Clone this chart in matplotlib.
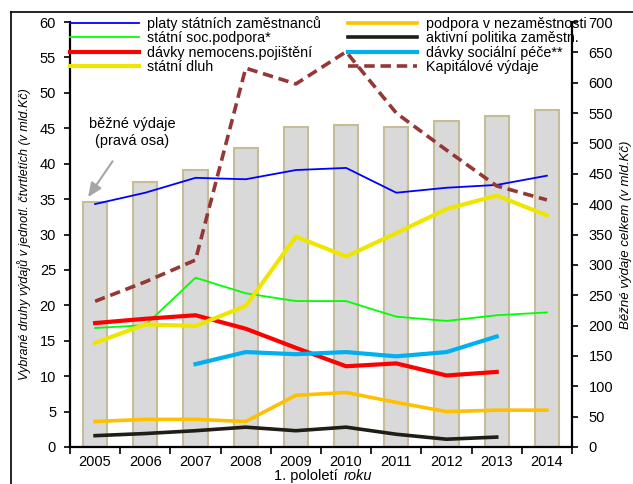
import matplotlib
matplotlib.use('Agg')
import matplotlib.pyplot as plt
import numpy as np

plt.rcParams['font.family'] = ['Liberation Sans', 'DejaVu Sans']

years = ['2005', '2006', '2007', '2008', '2009', '2010', '2011', '2012', '2013', '2014']
bezne_vydaje = [403, 437, 456, 492, 527, 530, 527, 537, 545, 555]
platy = [34.3, 35.9, 38.0, 37.8, 39.1, 39.4, 35.9, 36.6, 37.0, 38.3]
soc_podpora = [16.8, 17.2, 23.9, 21.7, 20.6, 20.6, 18.4, 17.8, 18.6, 19.0]
nemocenske = [17.5, 18.1, 18.6, 16.7, 14.0, 11.4, 11.8, 10.1, 10.6, None]
dluh = [14.7, 17.3, 17.1, 19.9, 29.7, 26.9, 30.2, 33.6, 35.5, 32.7]
podpora_nezam = [3.6, 3.9, 3.9, 3.6, 7.3, 7.7, 6.3, 5.0, 5.2, 5.2]
aktivni = [1.6, 1.9, 2.3, 2.8, 2.3, 2.8, 1.8, 1.1, 1.4, None]
soc_pece = [None, None, 11.7, 13.4, 13.1, 13.4, 12.8, 13.4, 15.6, None]
kapitalove = [240, 272, 308, 624, 598, 651, 550, 489, 430, 407]

x = np.arange(len(years))
f = lambda v: np.array(v, dtype=float)

fig = plt.figure(figsize=(6.33, 4.84), dpi=100)
axb = fig.add_axes([70/633, 37/484, 502/633, 425/484])
axl = axb.twinx()
axk = axb.twinx()

# bars (right axis)
axb.bar(x, bezne_vydaje, width=0.48, color='#d9d9d9', edgecolor='#c4bd97', linewidth=1.5, zorder=2)
axb.set_ylim(0, 700)
axb.set_yticks(np.arange(0, 701, 50))
axb.yaxis.tick_right()
axb.yaxis.set_label_position('right')
axb.set_ylabel('Běžné výdaje celkem (v mld.Kč)', fontstyle='italic', fontsize=9.5, labelpad=5)
axb.set_xlim(-0.5, 9.5)
axb.set_xticks(np.arange(-0.5, 10, 1))
axb.set_xticklabels([])
axb.set_xticks(x, minor=True)
axb.set_xticklabels(years, minor=True)
axb.tick_params(axis='x', which='major', length=5, width=1.2, direction='out')
axb.tick_params(axis='x', which='minor', length=0, labelsize=10.5, pad=6)
axb.tick_params(axis='y', length=4, width=1.2, labelsize=10.5, pad=8)
for s in ['top', 'left']:
    axb.spines[s].set_visible(False)
for s in ['right', 'bottom']:
    axb.spines[s].set_linewidth(1.6)

# left axis lines
h1, = axl.plot(x, f(platy), color='#0000ff', lw=1.3, label='platy státních zaměstnanců')
h2, = axl.plot(x, f(soc_podpora), color='#00ff00', lw=1.3, label='státní soc.podpora*')
h3, = axl.plot(x, f(nemocenske), color='#ff0000', lw=3, label='dávky nemocens.pojištění')
h4, = axl.plot(x, f(dluh), color='#eee600', lw=3, label='státní dluh')
h5, = axl.plot(x, f(podpora_nezam), color='#ffc000', lw=2.6, label='podpora v nezaměstnosti')
h6, = axl.plot(x, f(aktivni), color='#1f1d16', lw=2.6, label='aktivní politika zaměstn.')
h7, = axl.plot(x, f(soc_pece), color='#00b0f0', lw=3, label='dávky sociální péče**')
axl.set_ylim(0, 60)
axl.set_yticks(np.arange(0, 61, 5))
axl.yaxis.tick_left()
axl.yaxis.set_label_position('left')
axl.set_ylabel('Vybrané druhy výdajů v jednotl. čtvrtletích (v mld.Kč)', fontstyle='italic', fontsize=9, labelpad=6)
axl.tick_params(axis='y', length=4, width=1.2, labelsize=10.5, pad=6)
for s in ['top', 'right', 'bottom']:
    axl.spines[s].set_visible(False)
axl.spines['left'].set_linewidth(1.6)

# capital expenditures (right axis scale)
h8, = axk.plot(x, kapitalove, color='#953735', lw=2.6, linestyle=(0, (2.9, 1.6)), label='Kapitálové výdaje')
axk.set_ylim(0, 700)
axk.set_yticks([])
for s in axk.spines.values():
    s.set_visible(False)

# annotation
axl.annotate('běžné výdaje\n(pravá osa)', xy=(0.036, 0.588), xycoords='axes fraction',
             xytext=(0.124, 0.74), textcoords='axes fraction', ha='center', va='center',
             fontsize=10.5, linespacing=1.3,
             arrowprops=dict(arrowstyle='-|>,head_width=0.35,head_length=0.8', color='#a6a6a6', lw=1.5,
                             shrinkA=9, shrinkB=0))

# x label in two styles
axb.text(0.542, -0.068, '1. pololetí ', transform=axb.transAxes, ha='right', va='center', fontsize=10.5)
axb.text(0.545, -0.068, 'roku', transform=axb.transAxes, ha='left', va='center', fontsize=10.5, fontstyle='italic')

# legend
fig.legend(handles=[h1, h2, h3, h4, h5, h6, h7, h8], ncol=2, loc='upper left',
           bbox_to_anchor=(70/633, 1 - 16/484), frameon=False, fontsize=10.3,
           handlelength=4.8, handletextpad=0.6, columnspacing=1.9, labelspacing=0.02,
           borderpad=0, borderaxespad=0)

# figure border (top and left)
fig.add_artist(plt.Line2D([11/633, 11/633], [0, 1 - 12/484], transform=fig.transFigure, color='black', lw=1.2))
fig.add_artist(plt.Line2D([11/633, 1], [1 - 12/484, 1 - 12/484], transform=fig.transFigure, color='black', lw=1.2))

fig.savefig('out.png', dpi=100)
